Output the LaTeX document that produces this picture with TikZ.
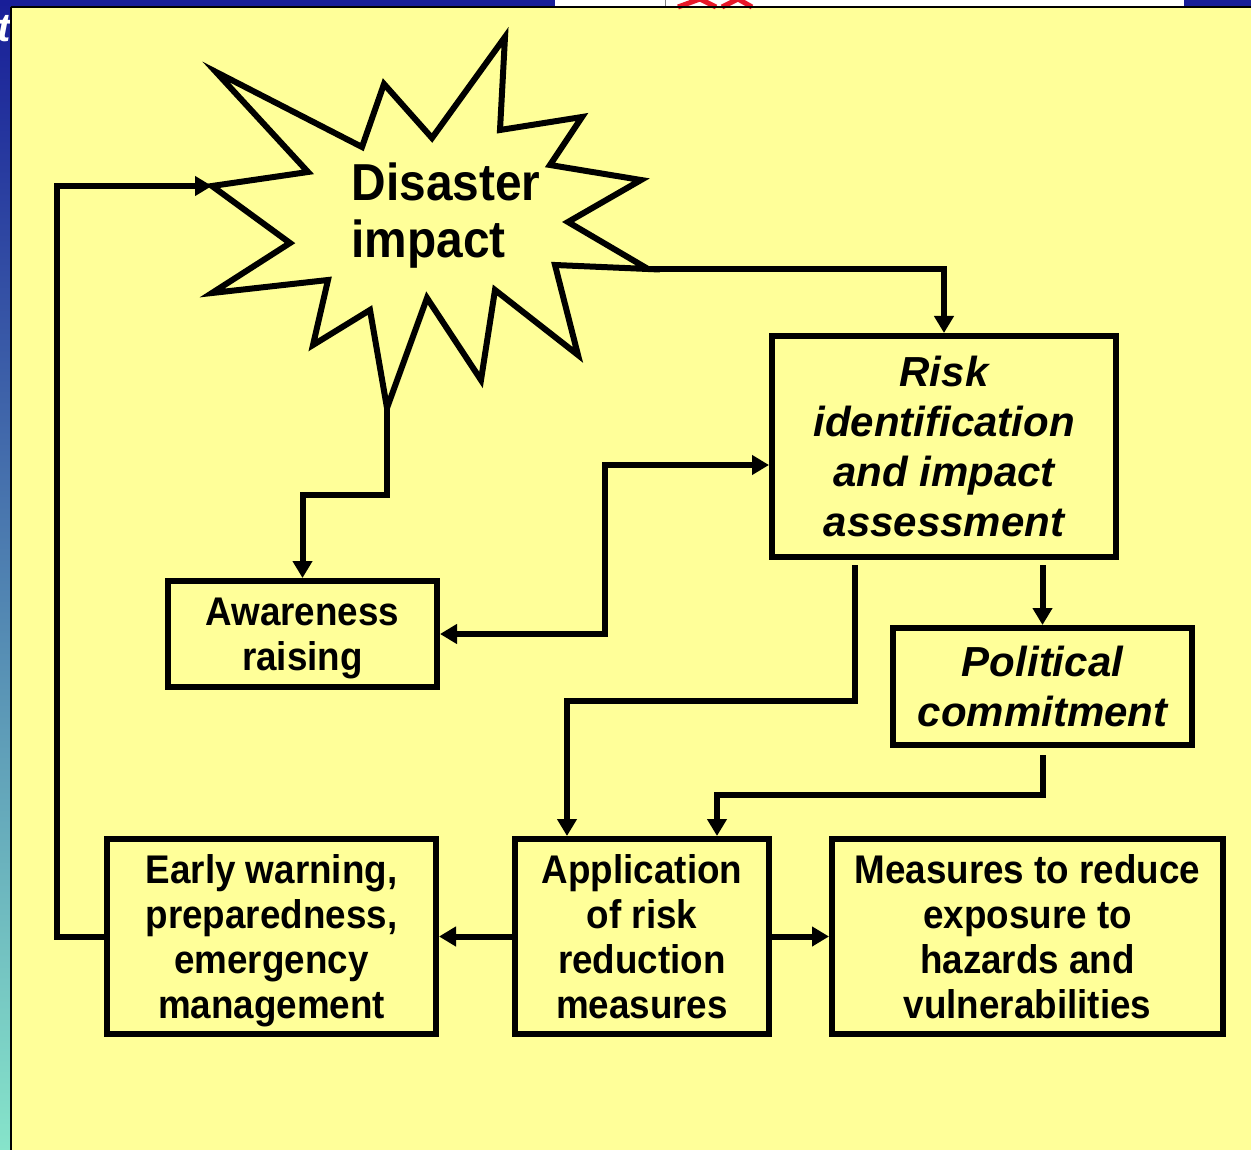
\documentclass[tikz,border=0pt]{standalone}
\usepackage{fontspec}
\setmainfont{Liberation Sans}[FakeStretch=0.92]
\newfontfamily\slantfont{Liberation Sans}
\usepackage{tikz}
\usetikzlibrary{arrows.meta, positioning}
\usepackage{xcolor}
\definecolor{slideyellow}{RGB}{255,255,153}
\definecolor{slideblue}{RGB}{24,30,152}
\definecolor{slidemid}{RGB}{80,130,182}
\definecolor{slideteal}{RGB}{134,228,202}
\definecolor{logored}{RGB}{232,24,40}

\begin{document}
\begin{tikzpicture}[x=1pt,y=-1pt,line width=6pt,>={Triangle[length=17pt,width=19pt]}]
  \tikzstyle{block}=[draw,inner sep=0pt,align=center,font=\bfseries\fontsize{40}{45}\selectfont,text depth=-4pt]
  \tikzstyle{slantblock}=[draw,inner sep=0pt,align=center,font=\slantfont\bfseries\itshape\fontsize{42}{50}\selectfont]

  % slide frame
  \useasboundingbox (0,0) rectangle (1251,1150);
  \clip (0,0) rectangle (1251,1150);
  \shade[top color=slideblue,middle color=slidemid,bottom color=slideteal] (0,0) rectangle (12,1150);
  \node[white,inner sep=0pt,anchor=base,font=\slantfont\bfseries\itshape\fontsize{40}{40}\selectfont] (titlebit) at (4,42) {t};
  \fill[slideyellow] (12,7) rectangle (1251,1150);
  \fill[slideblue] (0,0) rectangle (1251,6);
  \fill[white] (555,0) rectangle (1184,6);
  \draw[gray,line width=1pt] (665,0) -- (665,6);
  \draw[logored,line width=5pt] (678,7) -- (700,-1) (700,-1) -- (716,7) (722,7) -- (738,-1) (738,-1) -- (752,7);
  \draw[line width=2pt] (11,7) -- (1251,7);
  \draw[line width=1.5pt] (11,7) -- (11,1150);

  % disaster burst
  \draw[line join=miter] (212,186) coordinate (tipL) -- (308,172) -- (216,72) -- (362,147) -- (384,84)
    -- (432,138) -- (505,37) -- (500,130) -- (582,117) -- (550,165) -- (641,180) -- (568,222)
    -- (648,269) coordinate (tipR) -- (555,265) -- (578,355) -- (495,290) -- (481,380) -- (427,298)
    -- (387,408) coordinate (tipB) -- (370,310) -- (313,345) -- (328,280) -- (212,293) -- (290,243) -- cycle;
  \node[inner sep=0pt,align=left,font=\bfseries\fontsize{52}{57}\selectfont] (burstlabel) at (446,215.5) {Disaster\\impact};

  \node[block,minimum width=269pt,minimum height=106pt]      (aware)  at (302.5,634)   {Awareness\\raising};
  \node[slantblock,minimum width=344pt,minimum height=221pt] (risk)   at (944,446.5)   {Risk\\identification\\and impact\\assessment};
  \node[slantblock,minimum width=299pt,minimum height=117pt] (polit)  at (1042.5,686.5) {Political\\commitment};
  \node[block,minimum width=329pt,minimum height=195pt]      (early)  at (271.5,936.5) {Early warning,\\preparedness,\\emergency\\management};
  \node[block,minimum width=254pt,minimum height=195pt]      (apply)  [right=73pt of early] {Application\\of risk\\reduction\\measures};
  \node[block,minimum width=391pt,minimum height=195pt]      (reduce) [right=57pt of apply] {Measures to reduce\\exposure to\\hazards and\\vulnerabilities};

  \draw[->] (tipR) -| (risk.north);
  \draw[->] (tipB) -- ++(0,87) -| (aware.north);
  \draw[<->] (aware.east) -- ++(165,0) |- ([yshift=-18.5pt]risk.west);
  \draw[->,shorten <=5pt] ([xshift=-89pt]risk.south) -- ++(0,141) -| ([xshift=-75pt]apply.north);
  \draw[->,shorten <=5pt] (risk.south -| polit.north) -- (polit.north);
  \draw[->,shorten <=7pt] (polit.south) -- ++(0,47) -| ([xshift=75pt]apply.north);
  \draw[->] (apply.west) -- (early.east);
  \draw[->] (apply.east) -- (reduce.west);
  \draw[->] (early.west) -- ++(-47,0) |- (tipL);
\end{tikzpicture}
\end{document}
